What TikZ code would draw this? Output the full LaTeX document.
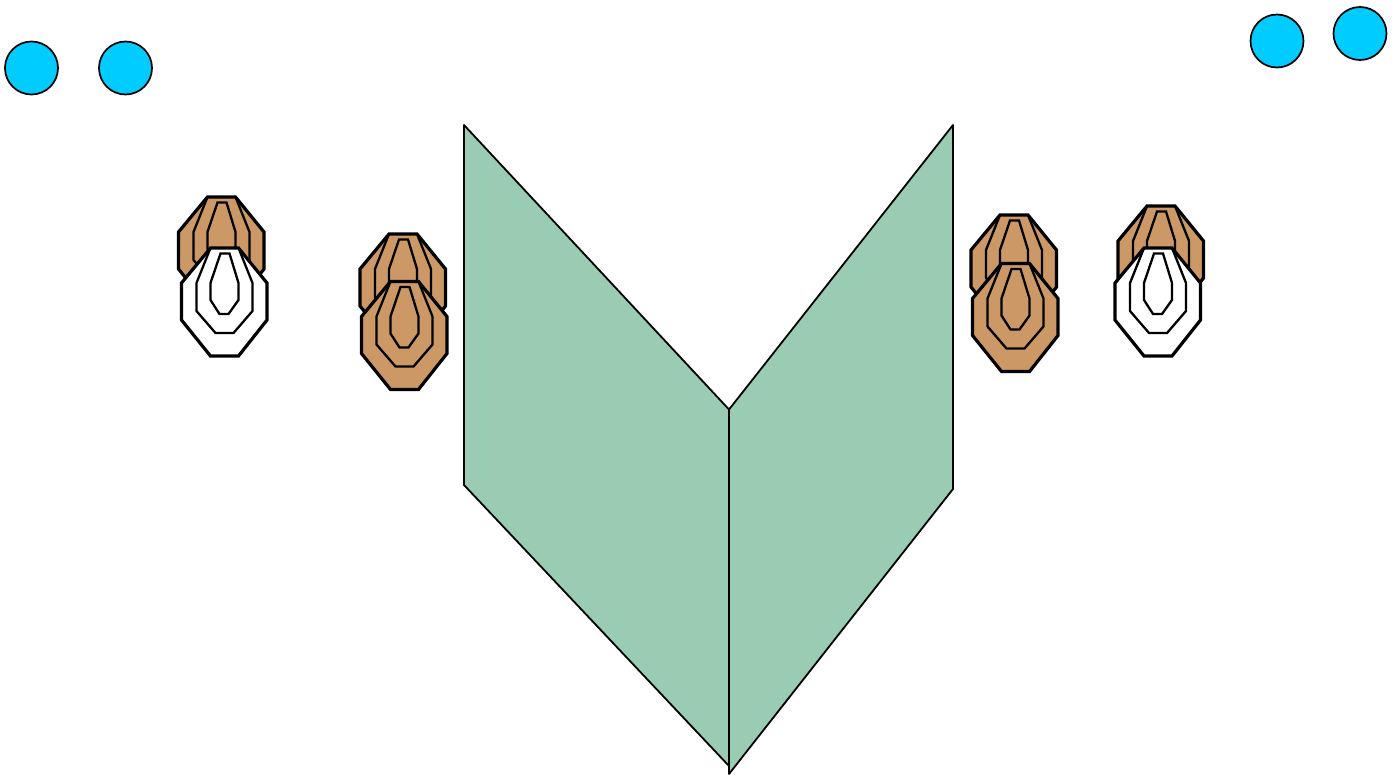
\documentclass[tikz,border=0pt]{standalone}
\definecolor{copper}{HTML}{CC9966}
\definecolor{sky}{HTML}{00CCFF}
\definecolor{panel}{HTML}{99CCB3}
\tikzset{
  ball/.style={draw=black,line width=1.7pt,fill=sky},
  wall/.style={draw=black,line width=1.8pt,fill=panel,line join=round},
  targetouter/.style={draw=black,line width=3.2pt,line join=miter},
  targetring/.style={draw=black,line width=2.3pt,line join=miter},
  pics/target/.style={code={
    \path[targetouter,fill=#1] (29,0) -- (57,0) -- (85.5,35) -- (85.5,72) -- (57,108) -- (29,108) -- (0,72) -- (0,35) -- cycle;
    \path[targetring] (29,0) -- (15,35) -- (15,63) -- (34,85) -- (52,85) -- (71,63) -- (71,35) -- (57,0);
    \path[targetring] (39,5.5) -- (48,5.5) -- (57,35) -- (57,52) -- (47,66) -- (38,66) -- (29,52) -- (29,35) -- cycle;
  }}
}
\begin{document}
\begin{tikzpicture}[x=1pt,y=-1pt]
\useasboundingbox (0,0) rectangle (1400,774);
\path[ball] (31.5,68) circle (26.5);
\path[ball] (125.5,68) circle (26.5);
\path[ball] (1277,41) circle (26.5);
\path[ball] (1360,33.5) circle (26.5);
\path[wall] (464,125) -- (729,409.5) -- (729,766) -- (464,485) -- cycle;
\path[wall] (953,125) -- (729,409.5) -- (729,774) -- (953,489) -- cycle;
\pic at (178.5,197) {target=copper};
\pic at (181.5,248) {target=white};
\pic at (360,234) {target=copper};
\pic at (361.5,281.5) {target=copper};
\pic at (971,215) {target=copper};
\pic at (972.5,263.5) {target=copper};
\pic at (1118,206) {target=copper};
\pic at (1115,248) {target=white};
\end{tikzpicture}
\end{document}
